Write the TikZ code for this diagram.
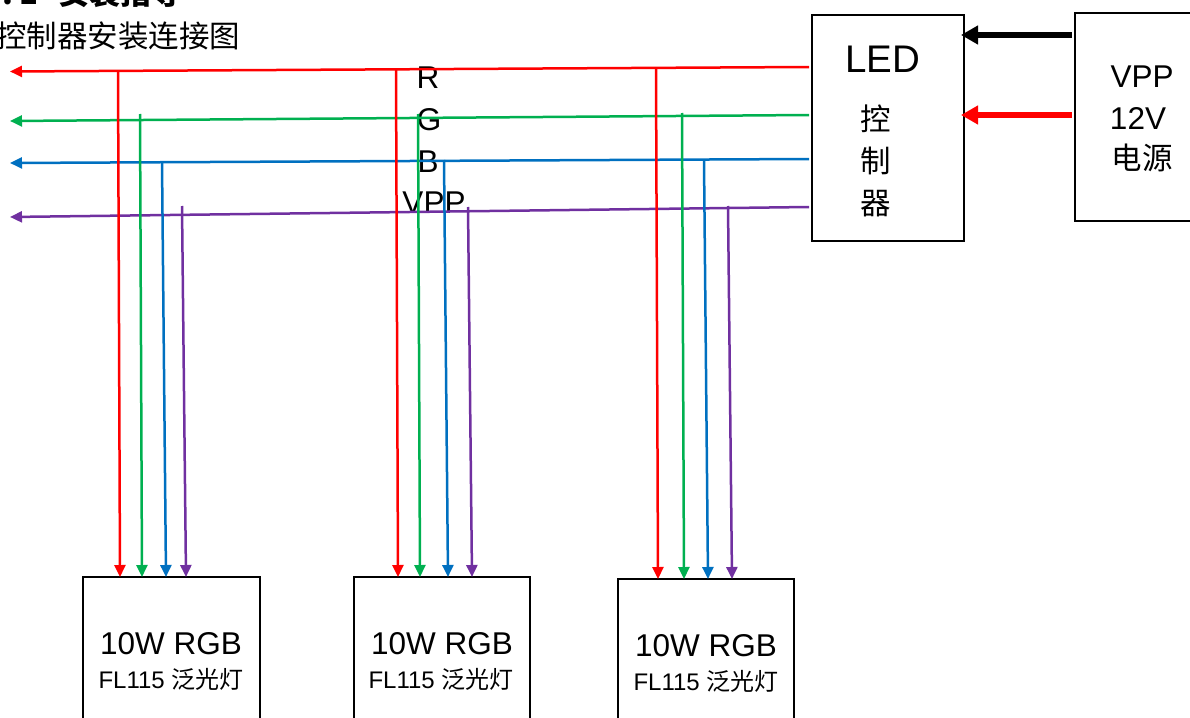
\documentclass[tikz,border=0pt]{standalone}
\usepackage{fontspec}
\setmainfont{Liberation Sans}
\newfontfamily\cjk{Noto Sans CJK SC}
\usepackage{tikz}
\usetikzlibrary{arrows.meta}
\definecolor{wirered}{HTML}{FF0000}
\definecolor{wiregreen}{HTML}{00B050}
\definecolor{wireblue}{HTML}{0070C0}
\definecolor{wirepurple}{HTML}{7030A0}
\newcommand{\fs}[1]{\fontsize{#1}{#1}\selectfont}
\tikzset{
	box/.style={draw,line width=2.4pt,inner sep=0pt,outer sep=0pt},
	wire/.style={line width=2.5pt,-{Triangle[width=11pt,length=12pt]}},
	feed/.style={line width=5.5pt,-{Triangle[width=18pt,length=17pt]}},
	label/.style={inner sep=0pt,font=\fs{31.5}},
	small/.style={inner sep=0pt,font=\fs{24}},
	hanzi/.style={inner sep=0pt,font=\fs{30.5}\cjk}
}
\begin{document}
\begin{tikzpicture}[x=1pt,y=-1pt]
	\useasboundingbox (0,0) rectangle (1190,717);
	\node[box,anchor=north west,minimum width=152pt,minimum height=226pt] (ctrl) at (812,15) {};
	\node[box,anchor=north west,minimum width=140pt,minimum height=208pt] (power) at (1075,13) {};
	\node[box,anchor=north west,minimum width=177pt,minimum height=200pt] (lampa) at (83,577) {};
	\node[box,anchor=north west,minimum width=176pt,minimum height=200pt] (lampb) at (354,577) {};
	\node[box,anchor=north west,minimum width=176pt,minimum height=200pt] (lampc) at (618,579) {};

	\node[anchor=west,inner sep=0pt,font=\fs{31}\bfseries\cjk] (title) at (2,-7) {.\hspace{0.2em}1\hspace{0.65em}安装指导};
	\node[anchor=west,hanzi] (sub) at (-4,36) {控制器安装连接图};

	\node[label,font=\fs{38.5}] (led) at (883,59) {LED};
	\node[hanzi] (cha) at (876,119) {控};
	\node[hanzi] (chb) at (876,161) {制};
	\node[hanzi] (chc) at (876,204) {器};
	\node[label] (vpp) at (1142,77) {VPP};
	\node[label] (volt) at (1138,119) {12V};
	\node[hanzi] (src) at (1142,158) {电源};

	\node[label] (lr) at (428,78) {R};
	\node[label] (lg) at (429,120) {G};
	\node[label] (lb) at (428,162) {B};
	\node[label] (lv) at (434,203) {VPP};

	\node[label] (ta) at (171,644) {10W RGB};
	\node[small] (tb) at (171,679) {FL115 {\cjk 泛光灯}};
	\node[label] (tc) at (442,644) {10W RGB};
	\node[small] (td) at (441,679) {FL115 {\cjk 泛光灯}};
	\node[label] (te) at (706,646) {10W RGB};
	\node[small] (tf) at (706,681) {FL115 {\cjk 泛光灯}};

	\coordinate (outr) at (809,67);
	\coordinate (outg) at (809,115);
	\coordinate (outb) at (809,159);
	\coordinate (outv) at (809,207);
	\coordinate (endr) at (10,71.5);
	\coordinate (endg) at (10,121);
	\coordinate (endb) at (10,163);
	\coordinate (endv) at (10,217);
	\draw[wire,wirered] (outr) -- (endr);
	\draw[wire,wiregreen] (outg) -- (endg);
	\draw[wire,wireblue] (outb) -- (endb);
	\draw[wire,wirepurple] (outv) -- (endv);

	\foreach \name/\ra/\ga/\ba/\va/\rb/\gb/\bb/\vb/\yr/\yg/\yb/\yv/\yl in {
		lampa/118/140/162/182/120/142/166/186/71/114/162/206/577,
		lampb/396/418/444/468/398/420/448/472/70/114/160/207/577,
		lampc/656/682/704/728/658/684/708/732/69/113/161/206/579}
	{
		\coordinate (r\name) at (\rb,\yl);
		\coordinate (g\name) at (\gb,\yl);
		\coordinate (b\name) at (\bb,\yl);
		\coordinate (v\name) at (\vb,\yl);
		\draw[wire,wirered] (\ra,\yr) -- (r\name);
		\draw[wire,wiregreen] (\ga,\yg) -- (g\name);
		\draw[wire,wireblue] (\ba,\yb) -- (b\name);
		\draw[wire,wirepurple] (\va,\yv) -- (v\name);
	}

	\coordinate (pwa) at (1072,35);
	\coordinate (pwb) at (1072,115);
	\coordinate (cta) at (961,35);
	\coordinate (ctb) at (961,115);
	\draw[feed,black] (pwa) -- (cta);
	\draw[feed,wirered] (pwb) -- (ctb);
\end{tikzpicture}
\end{document}
